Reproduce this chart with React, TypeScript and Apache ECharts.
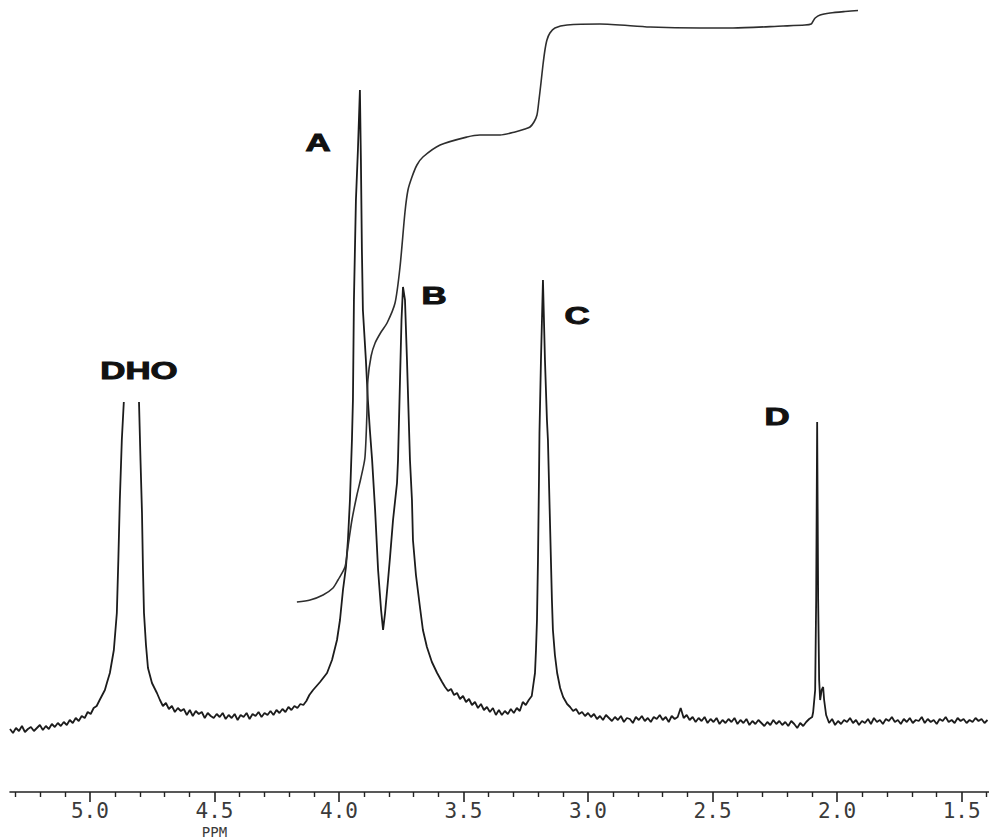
import React, { useEffect, useRef } from "react";
import * as echarts from "echarts";

// ---- axis ticks (ppm) ----
const tickLabels = [5.0, 4.5, 4.0, 3.5, 3.0, 2.5, 2.0, 1.5];
const minorTickPpm = [
  5.3, 5.2, 5.1, 4.9, 4.8, 4.7, 4.6, 4.4, 4.3, 4.2, 4.1, 3.9, 3.8, 3.7, 3.6, 3.4,
  3.3, 3.2, 3.1, 2.9, 2.8, 2.7, 2.6, 2.4, 2.3, 2.2, 2.1, 1.9, 1.8, 1.7, 1.6, 1.4,
];

// ---- spectrum: noisy baseline segments (sampled every 0.012 ppm) ----
const sampleStep = 0.012;
const baselineLeftStart = 5.321;
const baselineLeft = [
  -9, -13, -8, -11, -6, -12, -9, -7, -11, -8, -5, -10, -6, -9, -4, -7, -3, -6, -2, -5,
  0, -3, 2, -1, 4, 2, 8, 6, 12, 14, 20,
];
const baselineMid1Start = 4.719;
const baselineMid1 = [
  20, 14, 17, 11, 14, 8, 12, 9, 11, 5, 10, 4, 9, 6, 8, 2, 7, 4, 2, 6, 3, 7, 1, 5, 2, 6,
  0, 5, 3, 7, 1, 6, 4, 8, 3, 7, 5, 9, 5, 10, 7, 11, 8, 13, 10, 14, 12, 16, 15, 19, 25,
];
const baselineMid2Start = 3.574;
const baselineMid2 = [
  33, 29, 31, 25, 27, 21, 24, 18, 21, 15, 18, 12, 16, 10, 13, 8, 12, 5, 10, 5, 9, 6, 11,
  7, 12, 9, 18, 15, 20, 24,
];
const baselineRight1Start = 3.072;
const baselineRight1 = [
  13, 9, 11, 6, 8, 4, 7, 3, 6, 1, 4, 0, 5, 2, -1, 3, 0, 4, -2, 2, 1, -3, 3, 0, 4, -1, 2,
  -2, 3, 1, 5, 0, 3, -2, 4, 1, 3, 12, 2, 5, 0, 3, -2, 2, -1, 3, -3, 1, -2, 2, -4, 0, -3,
  1, -2, 2, -4, 0, -3, 1, -5, -1, -4, 0, -3, -6, -2, -5, 0, -4, -1, -5, -2, -6, -1, -4,
  -8, -3, -6, -2, 1,
];
const baselineRight2Start = 2.032;
const baselineRight2 = [
  -3, 1, -5, -1, -4, 0, -2, 2, -3, 0, -5, -1, -3, 1, -4, 2, -2, 0, -4, 1, -1, 3, -2, 0,
  -4, 1, -2, 2, -3, 0, -1, 3, -3, 1, -2, 0, -4, 1, -1, 3, -2, 0, -3, 2, -1, 1, -3, 0, -2,
  2, -1, 1, -3, 0,
];

// ---- spectrum: peaks [ppm, intensity]; DHO is off scale (pen lifted) ----
const peakDHO = [
  [4.94, 30], [4.932, 37], [4.92, 47], [4.904, 70], [4.892, 107], [4.886, 160],
  [4.88, 220], [4.872, 280], [4.864, 318], [4.833, "-"], [4.803, 318], [4.797, 260],
  [4.791, 207], [4.787, 150], [4.783, 107], [4.775, 75], [4.767, 52], [4.751, 37],
  [4.731, 27],
];
const peakAB = [
  [4.104, 30], [4.076, 38], [4.048, 47], [4.028, 60], [4.008, 80], [3.996, 100],
  [3.984, 130], [3.972, 153], [3.964, 180], [3.956, 220], [3.948, 280], [3.944, 320],
  [3.94, 420], [3.932, 520], [3.924, 570], [3.916, 630], [3.912, 560], [3.908, 470],
  [3.904, 410], [3.892, 360], [3.884, 320], [3.876, 290], [3.867, 260], [3.855, 210],
  [3.843, 150], [3.831, 110], [3.823, 90], [3.815, 107], [3.803, 140], [3.795, 163],
  [3.783, 200], [3.767, 237], [3.763, 260], [3.755, 340], [3.749, 400], [3.743, 433],
  [3.735, 420], [3.727, 360], [3.715, 260], [3.707, 220], [3.703, 180], [3.691, 145],
  [3.675, 113], [3.663, 90], [3.647, 73], [3.627, 58], [3.606, 47], [3.586, 38],
];
const peakC = [
  [3.217, 40], [3.213, 47], [3.209, 70], [3.205, 100], [3.201, 160], [3.197, 240],
  [3.195, 287], [3.189, 360], [3.181, 440], [3.173, 360], [3.165, 300], [3.161, 280],
  [3.153, 200], [3.145, 120], [3.141, 90], [3.133, 65], [3.124, 47], [3.112, 32],
  [3.1, 23], [3.084, 16],
];
const peakD = [
  [2.1, 3], [2.096, 8], [2.088, 30], [2.084, 120], [2.08, 298], [2.076, 120], [2.072, 40],
  [2.068, 20], [2.062, 30], [2.056, 33], [2.052, 20], [2.044, 5],
];

// ---- integral trace [ppm, height] ----
const integralTrace = [
  [4.169, 118], [4.116, 120], [4.064, 125], [4.024, 132], [4.004, 140], [3.976, 153],
  [3.964, 173], [3.948, 200], [3.928, 225], [3.912, 242], [3.896, 262], [3.888, 305],
  [3.884, 340], [3.871, 364], [3.855, 377], [3.831, 388], [3.807, 397], [3.775, 417],
  [3.755, 453], [3.735, 508], [3.723, 530], [3.707, 543], [3.687, 555], [3.663, 563],
  [3.594, 575], [3.486, 583], [3.434, 585], [3.353, 585], [3.293, 588], [3.253, 591],
  [3.233, 593], [3.217, 598], [3.205, 605], [3.197, 620], [3.189, 637], [3.181, 655],
  [3.173, 670], [3.165, 680], [3.153, 687], [3.133, 692], [3.084, 695], [2.952, 696],
  [2.751, 693], [2.55, 692], [2.418, 692], [2.217, 694], [2.129, 695], [2.104, 696],
  [2.096, 699], [2.088, 702], [2.068, 705], [2.028, 707], [1.968, 708.5], [1.916, 709.5],
];

// ---- peak labels ----
const peakLabelText = ["DHO", "A", "B", "C", "D"];
const peakLabelPpm = [4.803, 4.084, 3.618, 3.044, 2.241];
const peakLabelHeight = [349, 577, 424, 404, 303];

function sampled(start: number, vals: number[]) {
  return vals.map((v, i) => [+(start - i * sampleStep).toFixed(4), v]);
}

export default function App() {
  const ref = useRef<HTMLDivElement>(null);
  useEffect(() => {
    if (!ref.current) return;
    const chart = echarts.init(ref.current, null, { renderer: "svg" });
    const spectrum = [
      ...sampled(baselineLeftStart, baselineLeft),
      ...peakDHO,
      ...sampled(baselineMid1Start, baselineMid1),
      ...peakAB,
      ...sampled(baselineMid2Start, baselineMid2),
      ...peakC,
      ...sampled(baselineRight1Start, baselineRight1),
      ...peakD,
      ...sampled(baselineRight2Start, baselineRight2),
    ];
    const xMin = 1.39;
    const xMax = 5.321;
    chart.setOption({
      animation: false,
      backgroundColor: "#ffffff",
      grid: { left: 10, right: 0, top: 0, bottom: 48 },
      xAxis: [
        {
          type: "value",
          inverse: true,
          min: xMin,
          max: xMax,
          position: "bottom",
          axisLine: { show: true, onZero: false, lineStyle: { color: "#222", width: 1.6 } },
          axisTick: {
            show: true,
            length: 10,
            customValues: tickLabels,
            lineStyle: { color: "#222", width: 1.6 },
          },
          axisLabel: {
            show: true,
            customValues: tickLabels,
            formatter: (v: number) => v.toFixed(1),
            fontFamily: "DejaVu Sans Mono",
            fontSize: 21,
            color: "#3a3a3a",
            margin: 8,
          },
          splitLine: { show: false },
        },
        {
          type: "value",
          inverse: true,
          min: xMin,
          max: xMax,
          position: "bottom",
          offset: 0,
          axisLine: { show: false, onZero: false },
          axisTick: {
            show: true,
            length: 5,
            customValues: minorTickPpm,
            lineStyle: { color: "#222", width: 1.4 },
          },
          axisLabel: { show: false },
          splitLine: { show: false },
        },
      ],
      yAxis: {
        type: "value",
        min: -72,
        max: 720,
        show: false,
        splitLine: { show: false },
      },
      series: [
        {
          type: "line",
          name: "spectrum",
          data: spectrum,
          xAxisIndex: 0,
          showSymbol: false,
          symbol: "none",
          clip: true,
          lineStyle: { color: "#1c1c1c", width: 1.8 },
        },
        {
          type: "line",
          name: "integral",
          data: integralTrace,
          xAxisIndex: 0,
          showSymbol: false,
          symbol: "none",
          smooth: 0.25,
          lineStyle: { color: "#2e2e2e", width: 1.6 },
        },
      ],
    });

    const graphics: any[] = peakLabelText.map((t, i) => {
      const p = chart.convertToPixel({ xAxisIndex: 0, yAxisIndex: 0 }, [
        peakLabelPpm[i],
        peakLabelHeight[i],
      ]) as number[];
      return {
        type: "text",
        x: p[0],
        y: p[1],
        scaleX: 1.45,
        style: {
          text: t,
          fontFamily: "Liberation Sans, Arial, sans-serif",
          fontWeight: "bold",
          fontSize: 24,
          fill: "#111",
          stroke: "#111",
          lineWidth: 1,
          align: "center",
          verticalAlign: "middle",
        },
      };
    });
    const pp = chart.convertToPixel({ xAxisIndex: 0, yAxisIndex: 0 }, [4.5, -72]) as number[];
    graphics.push({
      type: "text",
      x: pp[0],
      y: pp[1] + 40,
      style: {
        text: "PPM",
        fontFamily: "DejaVu Sans Mono",
        fontSize: 14,
        fill: "#3a3a3a",
        align: "center",
        verticalAlign: "middle",
      },
    });
    chart.setOption({ graphic: graphics });

    return () => chart.dispose();
  }, []);
  return (
    <div
      ref={ref}
      style={{ position: "fixed", left: 0, top: 0, width: 989, height: 840, background: "#fff" }}
    />
  );
}
